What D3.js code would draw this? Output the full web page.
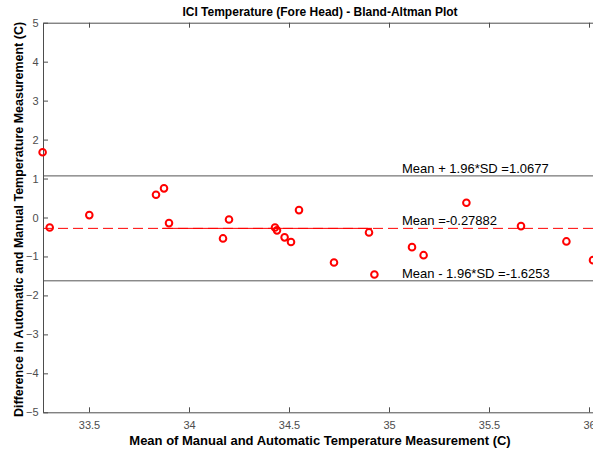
<!DOCTYPE html>
<html>
<head>
<meta charset="utf-8">
<script src="https://cdn.jsdelivr.net/npm/d3@7"></script>
<style>
  body { margin: 0; background: #fff; }
  svg { display: block; font-family: "Liberation Sans", Arial, sans-serif; }
</style>
</head>
<body>
<svg id="chart" width="593" height="455"></svg>
<script>
// ---- data ----
const meanValues = [33.268, 33.3035, 33.5015, 33.835, 33.875, 33.90, 34.17, 34.20, 34.43, 34.44, 34.478, 34.51, 34.55, 34.725, 34.90, 34.927, 35.115, 35.173, 35.387, 35.66, 35.887, 36.02];
const diffValues = [1.674, -0.255, 0.062, 0.584, 0.748, -0.144, -0.537, -0.05, -0.255, -0.33, -0.51, -0.63, 0.19, -1.155, -0.383, -1.463, -0.761, -0.967, 0.378, -0.221, -0.614, -1.095];
const meanDiff = -0.27882;
const upperLoA = 1.0677;
const lowerLoA = -1.6253;
const xTicks = [33.5, 34, 34.5, 35, 35.5, 36];
const yTicks = [-5, -4, -3, -2, -1, 0, 1, 2, 3, 4, 5];
const xDomain = [33.27, 36.04];
const yDomain = [-5, 5];
const solidMeanSegment = [33.865, 34.915];
const labels = [
  { text: "Mean + 1.96*SD =1.0677", y: upperLoA },
  { text: "Mean =-0.27882", y: meanDiff },
  { text: "Mean - 1.96*SD =-1.6253", y: lowerLoA }
];
const labelX = 35.065;
const titleText = "ICI Temperature (Fore Head) - Bland-Altman Plot";
const xLabelText = "Mean of Manual and Automatic Temperature Measurement (C)";
const yLabelText = "Difference in Automatic and Manual Temperature Measurement (C)";

// ---- layout ----
const svg = d3.select("#chart");
const mLeft = 43, mRight = 597, mTop = 22.7, mBottom = 412.3;
const x = d3.scaleLinear().domain(xDomain).range([mLeft, mRight]);
const y = d3.scaleLinear().domain(yDomain).range([mBottom, mTop]);
const axisColor = "#4d4d4d";

// limit / mean lines
const g = svg.append("g");
g.append("line")
  .attr("x1", x(xDomain[0])).attr("x2", x(xDomain[1]))
  .attr("y1", y(upperLoA)).attr("y2", y(upperLoA))
  .attr("stroke", "#555").attr("stroke-width", 1);
g.append("line")
  .attr("x1", x(xDomain[0])).attr("x2", x(xDomain[1]))
  .attr("y1", y(lowerLoA)).attr("y2", y(lowerLoA))
  .attr("stroke", "#555").attr("stroke-width", 1);
g.append("line")
  .attr("x1", x(xDomain[0])).attr("x2", x(xDomain[1]))
  .attr("y1", y(meanDiff)).attr("y2", y(meanDiff))
  .attr("stroke", "#ff0000").attr("stroke-width", 1)
  .attr("stroke-dasharray", "10,5");
g.append("line")
  .attr("x1", x(solidMeanSegment[0])).attr("x2", x(solidMeanSegment[1]))
  .attr("y1", y(meanDiff)).attr("y2", y(meanDiff))
  .attr("stroke", "#ff0000").attr("stroke-width", 1);

// labels
g.selectAll("text.lab").data(labels).join("text")
  .attr("class", "lab")
  .attr("x", x(labelX))
  .attr("y", d => y(d.y) - 3)
  .attr("font-size", 13)
  .attr("fill", "#000")
  .text(d => d.text);

// axes
const xAxisB = d3.axisBottom(x).tickValues(xTicks).tickSizeInner(-5).tickSizeOuter(0).tickPadding(9)
  .tickFormat(d3.format("~g"));
const xAxisT = d3.axisTop(x).tickValues(xTicks).tickSizeInner(-5).tickSizeOuter(0).tickFormat("");
const yAxisL = d3.axisLeft(y).tickValues(yTicks).tickSizeInner(-5).tickSizeOuter(0).tickPadding(4.5)
  .tickFormat(d3.format("~g"));

function styleAxis(sel) {
  sel.select(".domain").attr("stroke", axisColor);
  sel.selectAll(".tick line").attr("stroke", axisColor);
  sel.selectAll(".tick text").attr("fill", axisColor).attr("font-size", 11)
     .attr("font-family", "Liberation Sans, Arial, sans-serif");
}
svg.append("g").attr("transform", `translate(0,${mBottom})`).call(xAxisB).call(styleAxis);
svg.append("g").attr("transform", `translate(0,${mTop})`).call(xAxisT).call(styleAxis);
svg.append("g").attr("transform", `translate(${mLeft},0)`).call(yAxisL).call(styleAxis);

// points
const pts = meanValues.map((m, i) => ({ m, d: diffValues[i] }));
svg.append("g").selectAll("circle").data(pts).join("circle")
  .attr("cx", d => x(d.m)).attr("cy", d => y(d.d))
  .attr("r", 3.3)
  .attr("fill", "none").attr("stroke", "#ff0000").attr("stroke-width", 2);

// title & labels
svg.append("text")
  .attr("x", (mLeft + mRight) / 2).attr("y", 16)
  .attr("text-anchor", "middle").attr("font-size", 12).attr("font-weight", "bold")
  .attr("fill", "#000").text(titleText);
svg.append("text")
  .attr("x", (mLeft + mRight) / 2).attr("y", 445)
  .attr("text-anchor", "middle").attr("font-size", 13).attr("font-weight", "bold")
  .attr("fill", "#000").text(xLabelText);
svg.append("text")
  .attr("transform", `translate(23,${(mTop + mBottom) / 2 + 2}) rotate(-90)`)
  .attr("text-anchor", "middle").attr("font-size", 12.5).attr("font-weight", "bold")
  .attr("fill", "#000").text(yLabelText);
</script>
</body>
</html>
